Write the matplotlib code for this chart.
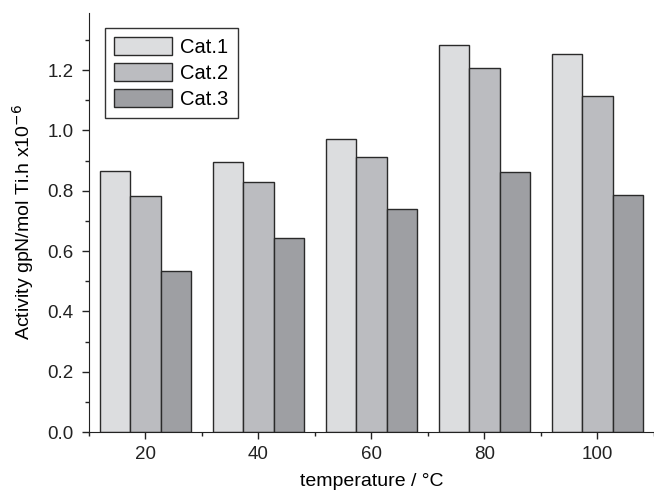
import matplotlib
matplotlib.use("Agg")
import matplotlib.pyplot as plt
import numpy as np
from matplotlib.ticker import MultipleLocator

plt.rcParams['font.family'] = ['Liberation Sans', 'DejaVu Sans']

temperatures = [20, 40, 60, 80, 100]
series_names = ["Cat.1", "Cat.2", "Cat.3"]
cat1 = [0.865, 0.894, 0.971, 1.285, 1.252]
cat2 = [0.782, 0.829, 0.911, 1.208, 1.113]
cat3 = [0.535, 0.645, 0.738, 0.862, 0.786]
colors = ["#dcdddf", "#bbbcc0", "#9e9fa3"]

fig = plt.figure(figsize=(6.54, 4.94), dpi=100)
ax = fig.add_axes([0.136, 0.1255, 0.864, 0.8485])

w = 5.4
x = np.array(temperatures, dtype=float)
for i, (vals, name, c) in enumerate(zip([cat1, cat2, cat3], series_names, colors)):
    ax.bar(x + (i - 1) * w, vals, width=w, color=c, edgecolor="#2a2a2a", linewidth=1.0, label=name)

ax.set_xlim(10, 110)
ax.set_ylim(0, 1.39)
ax.spines['top'].set_visible(False)
ax.spines['right'].set_visible(False)
for s in ('left', 'bottom'):
    ax.spines[s].set_color('#222222')
ax.xaxis.set_major_locator(MultipleLocator(20))
ax.xaxis.set_minor_locator(MultipleLocator(10))
ax.yaxis.set_major_locator(MultipleLocator(0.2))
ax.yaxis.set_minor_locator(MultipleLocator(0.1))
ax.yaxis.set_major_formatter(matplotlib.ticker.FormatStrFormatter('%.1f'))
ax.tick_params(which='major', direction='out', length=5, width=1, labelsize=13.5, pad=5, colors='#222222')
ax.tick_params(axis='y', which='major', pad=6)
ax.tick_params(which='minor', direction='out', length=3, width=1, colors='#222222')
ax.set_xlabel("temperature / °C", fontsize=14, labelpad=7)
ax.set_ylabel("Activity gpN/mol Ti.h x10$^{-6}$", fontsize=14, labelpad=8)

leg = ax.legend(loc='upper left', bbox_to_anchor=(0.028, 0.963), borderaxespad=0,
                fontsize=14.5, fancybox=False, edgecolor='#333333', framealpha=1,
                handlelength=2.9, handleheight=1.0, labelspacing=0.3, handletextpad=0.4,
                borderpad=0.45)
leg.get_frame().set_linewidth(1.0)

fig.savefig("out.png", dpi=100)
